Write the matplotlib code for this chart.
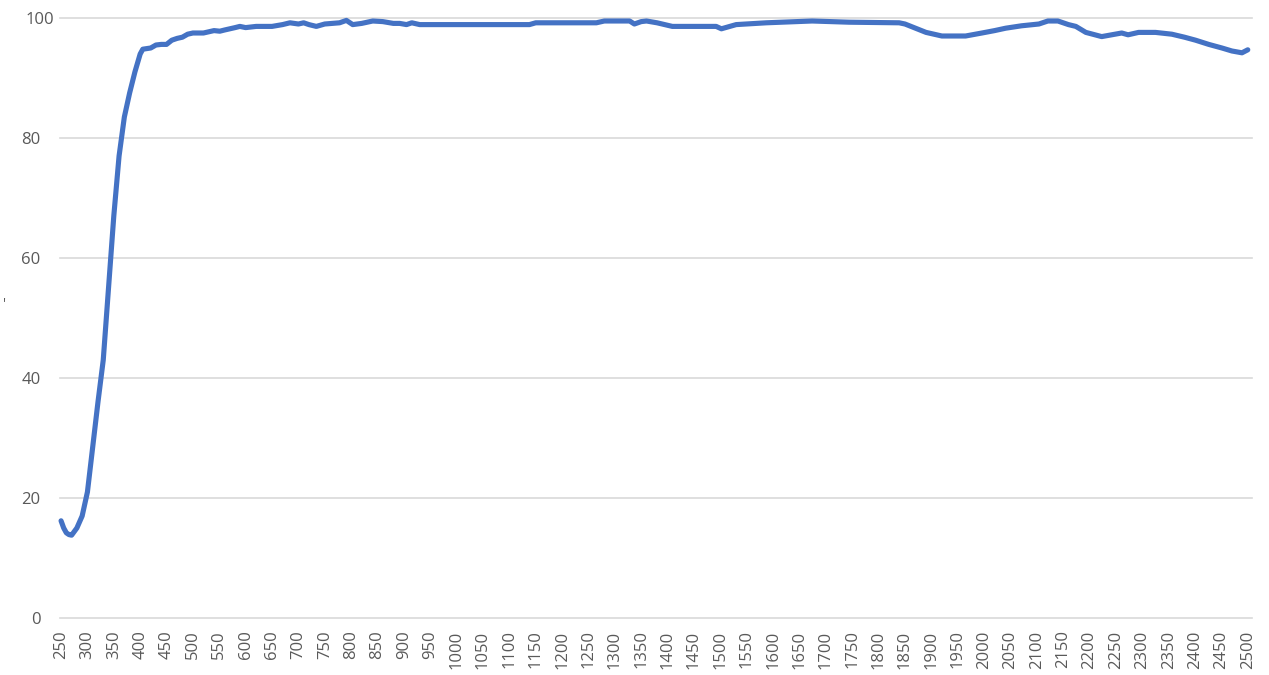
import matplotlib
matplotlib.use("Agg")
import matplotlib.pyplot as plt
import matplotlib.transforms as mtransforms

wavelength = [250, 255, 260, 265, 270, 280, 290, 300, 310, 320, 330, 340, 350, 360, 370,
              380, 390, 400, 405, 420, 430, 440, 450, 460, 470, 480, 490, 500, 520, 540,
              551, 560, 580, 589, 600, 620, 650, 670, 684, 700, 710, 720, 734, 750, 778,
              791, 803, 820, 841, 860, 880, 892, 905, 915, 930, 955, 1000, 1050, 1100,
              1138, 1150, 1200, 1265, 1280, 1328, 1337, 1350, 1360, 1380, 1409, 1450,
              1492, 1502, 1530, 1587, 1674, 1744, 1839, 1850, 1870, 1890, 1920, 1965,
              1996, 2020, 2041, 2071, 2104, 2121, 2140, 2160, 2174, 2193, 2223, 2261,
              2273, 2293, 2325, 2356, 2380, 2401, 2426, 2451, 2470, 2489, 2500]
transmittance = [16.2, 15.0, 14.2, 13.9, 13.8, 15.0, 17.0, 21.0, 28.5, 36.0, 43.0, 55.0, 67.0,
                 77.0, 83.5, 87.5, 91.0, 94.0, 94.8, 95.0, 95.5, 95.6, 95.6, 96.3, 96.6, 96.8,
                 97.3, 97.5, 97.5, 97.9, 97.8, 98.0, 98.4, 98.6, 98.4, 98.6, 98.6, 98.9, 99.2,
                 99.0, 99.2, 98.9, 98.6, 99.0, 99.2, 99.6, 98.9, 99.1, 99.5, 99.4, 99.1, 99.1,
                 98.9, 99.2, 98.9, 98.9, 98.9, 98.9, 98.9, 98.9, 99.2, 99.2, 99.2, 99.5, 99.5,
                 99.0, 99.4, 99.5, 99.2, 98.6, 98.6, 98.6, 98.2, 98.9, 99.2, 99.5, 99.3, 99.2,
                 99.0, 98.3, 97.6, 97.0, 97.0, 97.5, 97.9, 98.3, 98.7, 99.0, 99.5, 99.5, 98.9,
                 98.6, 97.6, 96.9, 97.5, 97.2, 97.6, 97.6, 97.3, 96.8, 96.3, 95.6, 95.0, 94.5,
                 94.2, 94.7]
x_ticks = list(range(250, 2501, 50))
y_ticks = [0, 20, 40, 60, 80, 100]

plt.rcParams['font.family'] = ['Open Sans', 'DejaVu Sans']
fig = plt.figure(figsize=(12.69, 6.75), dpi=100)
ax = fig.add_axes([60 / 1269, 1 - 618 / 675, (1252 - 60) / 1269, 600 / 675])

ax.plot(wavelength, transmittance, color='#4472C4', lw=3.7, solid_joinstyle='round',
        solid_capstyle='round', clip_on=False, zorder=3)

ax.set_xlim(248, 2508)
ax.set_ylim(0, 100)
ax.set_xticks(x_ticks)
ax.set_xticklabels([str(t) for t in x_ticks], rotation=90, fontsize=12, color='#595959')
ax.set_yticks(y_ticks)
ax.set_yticklabels([str(t) for t in y_ticks], fontsize=12, color='#595959')
ax.tick_params(axis='both', length=0)
ax.tick_params(axis='x', pad=9)
ax.tick_params(axis='y', pad=14)
for yv in y_ticks:
    ax.axhline(yv, color='#d9d9d9', lw=1.2, zorder=1, clip_on=False)
for s in ax.spines.values():
    s.set_visible(False)

# the top label sits a little further right in the reference
for lab in ax.get_yticklabels():
    if lab.get_text() == '100':
        lab.set_transform(lab.get_transform() +
                          mtransforms.ScaledTranslation(14 / 100, 0, fig.dpi_scale_trans))

fig.text(5 / 1269, 1 - 305 / 675, "'", fontsize=10, color='#595959', ha='center', va='center')

fig.savefig('out.png', dpi=100, facecolor='white')
